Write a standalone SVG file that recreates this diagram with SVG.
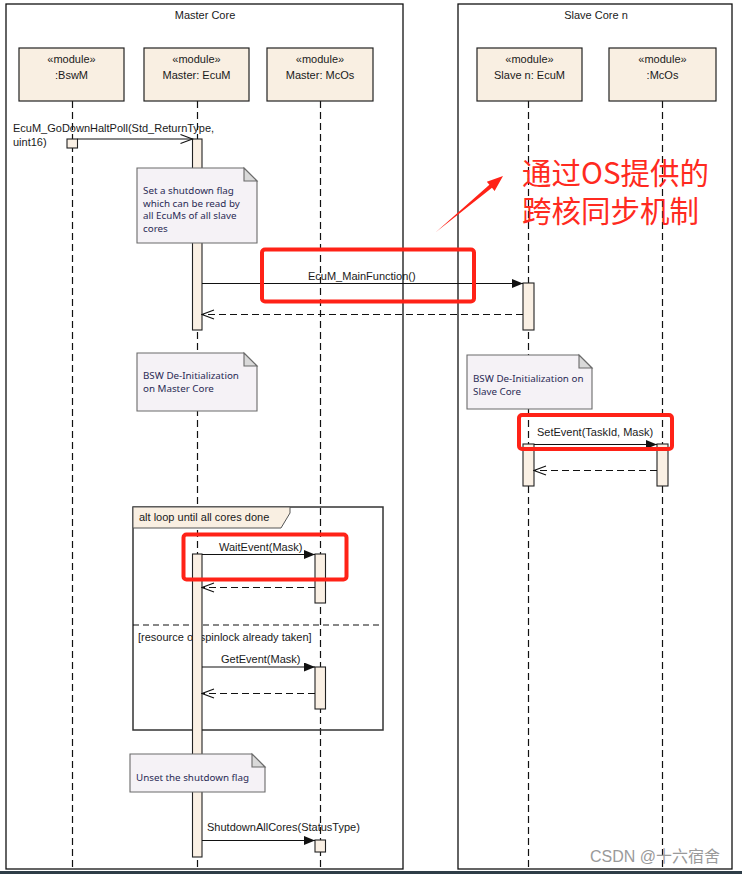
<svg xmlns="http://www.w3.org/2000/svg" width="742" height="874" viewBox="0 0 742 874">
<style>
.frame{fill:none;stroke:#111;stroke-width:1.3}
.mod{fill:#f9efe2;stroke:#222;stroke-width:1.2}
.life{stroke:#111;stroke-width:1.2;stroke-dasharray:7 4;fill:none}
.act{fill:#faf0e4;stroke:#222;stroke-width:1.1}
.msg{stroke:#111;stroke-width:1.1;fill:none}
.ret{stroke:#111;stroke-width:1.1;fill:none;stroke-dasharray:7 4}
.note{fill:#f5f2f6;stroke:#6a6a6a;stroke-width:1.1}
.fold{fill:#d9d9d9;stroke:#6a6a6a;stroke-width:1.1}
.t{font-family:"Liberation Sans",Arial,sans-serif;font-size:11px;fill:#1a1a1a}
.c{text-anchor:middle}
.nt{font-family:"Noto Sans","Open Sans",sans-serif;font-size:9.8px;fill:#2a2a55}
.red{fill:none;stroke:#ff2217;stroke-width:4;rx:3}
.cn{font-family:"Noto Sans CJK SC","Noto Sans",sans-serif;font-size:29.5px;fill:#ff2a20}
</style>
<defs>
<marker id="fill" markerUnits="userSpaceOnUse" markerWidth="11" markerHeight="9" refX="11" refY="4.5" orient="auto">
<path d="M0,0 L11,4.5 L0,9 z" fill="#111"/>
</marker>
<marker id="open" markerUnits="userSpaceOnUse" markerWidth="14" markerHeight="11" refX="13" refY="5" orient="auto">
<path d="M1,0.5 L13,5 L1,9.5" fill="none" stroke="#111" stroke-width="1.1"/>
</marker>
</defs>
<rect width="742" height="874" fill="#fff"/>

<g id="master-core">
<rect class="frame" x="6" y="4" width="397" height="865"/>
<text class="t c" x="205" y="19">Master Core</text>
</g>
<g id="slave-core">
<rect class="frame" x="458" y="4" width="274" height="865"/>
<text class="t c" x="596" y="19">Slave Core n</text>
</g>

<g id="lifelines">
<line class="life" x1="72.5" y1="101" x2="72.5" y2="874"/>
<line class="life" x1="197.5" y1="101" x2="197.5" y2="874"/>
<line class="life" x1="320.5" y1="101" x2="320.5" y2="874"/>
<line class="life" x1="528.5" y1="101" x2="528.5" y2="874"/>
<line class="life" x1="662.5" y1="101" x2="662.5" y2="874"/>
</g>

<g id="bswm">
<rect class="mod" x="19" y="48" width="105" height="53"/>
<text class="t c" x="71.5" y="63">«module»</text>
<text class="t c" x="71.5" y="79">:BswM</text>
</g>
<g id="master-ecum">
<rect class="mod" x="144" y="48" width="105" height="53"/>
<text class="t c" x="196.5" y="63">«module»</text>
<text class="t c" x="196.5" y="79">Master: EcuM</text>
</g>
<g id="master-mcos">
<rect class="mod" x="267" y="48" width="106" height="53"/>
<text class="t c" x="320" y="63">«module»</text>
<text class="t c" x="320" y="79">Master: McOs</text>
</g>
<g id="slave-ecum">
<rect class="mod" x="477" y="48" width="105" height="53"/>
<text class="t c" x="529.5" y="63">«module»</text>
<text class="t c" x="529.5" y="79">Slave n: EcuM</text>
</g>
<g id="slave-mcos">
<rect class="mod" x="609" y="48" width="107" height="53"/>
<text class="t c" x="662.5" y="63">«module»</text>
<text class="t c" x="662.5" y="79">:McOs</text>
</g>

<g id="alt-frame">
<rect x="133" y="507" width="250" height="223" fill="none" stroke="#333" stroke-width="1.5"/>
<path d="M133,507 L290,507 L290,513 L281,528 L133,528 Z" fill="#f9efe2" stroke="#555" stroke-width="1"/>
<text class="t" x="139" y="521">alt loop until all cores done</text>
<line x1="133" y1="625" x2="383" y2="625" stroke="#111" stroke-width="1.1" stroke-dasharray="6 4"/>
<text class="t" x="138" y="641">[resource or spinlock already taken]</text>
</g>

<g id="activations">
<rect class="act" x="67" y="139" width="10.5" height="9"/>
<rect class="act" x="192.5" y="139" width="9.5" height="191"/>
<rect class="act" x="523" y="283" width="11" height="47"/>
<rect class="act" x="523" y="444" width="11" height="42"/>
<rect class="act" x="657" y="444" width="11" height="42"/>
<rect class="act" x="192.5" y="554" width="9.5" height="303"/>
<rect class="act" x="315" y="554" width="10.5" height="49"/>
<rect class="act" x="315" y="667" width="10.5" height="42"/>
<rect class="act" x="315" y="840" width="10.5" height="12"/>
</g>

<g id="connectors">
<line class="msg" x1="77.5" y1="139" x2="192.5" y2="139" marker-end="url(#open)"/>
<text class="t" x="13" y="132">EcuM_GoDownHaltPoll(Std_ReturnType,</text>
<text class="t" x="13" y="146">uint16)</text>

<line class="msg" x1="202" y1="283.5" x2="523" y2="283.5" marker-end="url(#fill)"/>
<text class="t" x="308" y="280">EcuM_MainFunction()</text>
<line class="ret" x1="523" y1="314.5" x2="202" y2="314.5" marker-end="url(#open)"/>

<line class="msg" x1="534" y1="444.5" x2="657" y2="444.5" marker-end="url(#fill)"/>
<text class="t" x="537" y="436">SetEvent(TaskId, Mask)</text>
<line class="ret" x1="657" y1="470.5" x2="534" y2="470.5" marker-end="url(#open)"/>

<line class="msg" x1="202" y1="554.5" x2="315" y2="554.5" marker-end="url(#fill)"/>
<text class="t" x="219" y="551">WaitEvent(Mask)</text>
<line class="ret" x1="315" y1="587.5" x2="202" y2="587.5" marker-end="url(#open)"/>

<line class="msg" x1="202" y1="667" x2="315" y2="667" marker-end="url(#fill)"/>
<text class="t" x="221" y="663">GetEvent(Mask)</text>
<line class="ret" x1="315" y1="693.5" x2="202" y2="693.5" marker-end="url(#open)"/>

<line class="msg" x1="202" y1="840.5" x2="315" y2="840.5" marker-end="url(#fill)"/>
<text class="t" x="207" y="831">ShutdownAllCores(StatusType)</text>
</g>

<g id="note-shutdown-flag">
<path class="note" d="M137,168 H244 L257,181 V243 H137 Z"/>
<path class="fold" d="M244,168 V181 H257 Z"/>
<text class="nt" x="143" y="194">Set a shutdown flag</text>
<text class="nt" x="143" y="206.5">which can be read by</text>
<text class="nt" x="143" y="219">all EcuMs of all slave</text>
<text class="nt" x="143" y="231.5">cores</text>
</g>
<g id="note-master-deinit">
<path class="note" d="M137,353 H244 L257,366 V411 H137 Z"/>
<path class="fold" d="M244,353 V366 H257 Z"/>
<text class="nt" x="143" y="379">BSW De-Initialization</text>
<text class="nt" x="143" y="392">on Master Core</text>
</g>
<g id="note-slave-deinit">
<path class="note" d="M467,355 H579 L592,368 V409 H467 Z"/>
<path class="fold" d="M579,355 V368 H592 Z"/>
<text class="nt" x="473" y="382">BSW De-Initialization on</text>
<text class="nt" x="473" y="394.5">Slave Core</text>
</g>
<g id="note-unset">
<path class="note" d="M130,754 H252 L265,767 V792 H130 Z"/>
<path class="fold" d="M252,754 V767 H265 Z"/>
<text class="nt" x="136" y="781">Unset the shutdown flag</text>
</g>

<g id="annotations">
<rect class="red" x="262" y="249.5" width="212" height="52" rx="3"/>
<rect class="red" x="519" y="415" width="153" height="34" rx="3"/>
<rect class="red" x="183.5" y="534.5" width="163" height="45" rx="3"/>
<polygon points="436,232 492,187.8 494.6,190.9 503,176 486.8,181.7 489.4,184.8" fill="#ff2217"/>
<text class="cn" x="522" y="184">通过OS提供的</text>
<text class="cn" x="522" y="222">跨核同步机制</text>
</g>

<text x="590" y="862" font-family="'Liberation Sans','Noto Sans CJK SC',sans-serif" font-size="16" fill="#9a9a9a">CSDN @十六宿舍</text>
<rect x="0" y="871" width="742" height="3" fill="#2e3d47"/>
</svg>
